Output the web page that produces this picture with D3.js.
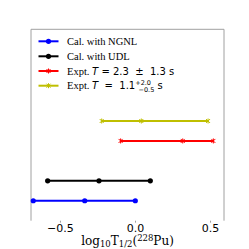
<!DOCTYPE html>
<html>
<head>
<meta charset="utf-8">
<script src="https://cdn.jsdelivr.net/npm/d3@7"></script>
<style>
  body { margin: 0; background: #fff; }
  svg text { font-family: "DejaVu Sans", sans-serif; white-space: pre; }
</style>
</head>
<body>
<div id="wrapper"></div>
<script>
// rows, in plot order (y position), with [low, central, high] on log10 scale
const seriesNames = ["Cal. with NGNL", "Cal. with UDL", "Expt. T = 2.3 ± 1.3 s", "Expt. T = 1.1 s"];
const seriesRow = [1, 2, 4, 5];
const seriesValues = [
  [-0.678, -0.335, 0.002],
  [-0.582, -0.24, 0.102],
  [-0.096, 0.318, 0.522],
  [-0.222, 0.042, 0.487],
];
const seriesColors = ["#0000ff", "#000000", "#ff0000", "#bfbf00"];
const seriesMarker = ["circle", "circle", "x", "x"];
const xTicks = [-0.5, 0.0, 0.5];

const dimensions = {
  width: 249,
  height: 249,
  margin: { top: 29.3, right: 25, bottom: 28.3, left: 31 },
};
dimensions.boundedWidth = dimensions.width - dimensions.margin.left - dimensions.margin.right;
dimensions.boundedHeight = dimensions.height - dimensions.margin.top - dimensions.margin.bottom;

const wrapper = d3.select("#wrapper")
  .append("svg")
  .attr("width", dimensions.width)
  .attr("height", dimensions.height);

const bounds = wrapper.append("g")
  .attr("transform", `translate(${dimensions.margin.left},${dimensions.margin.top})`);

const xScale = d3.scaleLinear()
  .domain([-0.693, 0.593])
  .range([0, dimensions.boundedWidth]);

const yScale = d3.scaleLinear()
  .domain([0, 9.6])
  .range([dimensions.boundedHeight, 0]);

// spines: left, top, right (no bottom)
const spineColor = "#a0a0a0";
bounds.append("path")
  .attr("d", `M0,${dimensions.boundedHeight}V0H${dimensions.boundedWidth}V${dimensions.boundedHeight}`)
  .attr("fill", "none")
  .attr("stroke", spineColor)
  .attr("stroke-width", 1);

const xAxis = bounds.append("g")
  .attr("transform", `translate(0,${dimensions.boundedHeight})`)
  .call(d3.axisBottom(xScale).tickValues(xTicks).tickSize(2).tickPadding(1.5)
    .tickFormat(d => d3.format(".1f")(d).replace("-", "\u2212")));
xAxis.select(".domain").remove();
xAxis.selectAll(".tick line").attr("stroke", spineColor);
xAxis.selectAll(".tick text")
  .attr("fill", "#000")
  .style("font-family", "DejaVu Sans")
  .style("font-size", "11px");

// x label
const xLabel = wrapper.append("text")
  .attr("x", dimensions.margin.left + dimensions.boundedWidth / 2)
  .attr("y", 244.5)
  .attr("text-anchor", "middle")
  .style("font-family", "DejaVu Serif")
  .style("font-size", "12px")
  .style("font-weight", "500")
  .attr("fill", "#000");
xLabel.append("tspan").text("log");
xLabel.append("tspan").attr("dy", 2.5).style("font-size", "8.5px").text("10");
xLabel.append("tspan").attr("dy", -2.5).text("T");
xLabel.append("tspan").attr("dy", 2.5).style("font-size", "8.5px").text("1/2");
xLabel.append("tspan").attr("dy", -2.5).text("(");
xLabel.append("tspan").attr("dy", -3.5).style("font-size", "8.5px").text("228");
xLabel.append("tspan").attr("dy", 3.5).text("Pu)");

// data rows
const rows = bounds.selectAll(".row")
  .data(seriesValues)
  .join("g")
  .attr("class", "row")
  .attr("transform", (d, i) => `translate(0,${yScale(seriesRow[i])})`);

rows.append("line")
  .attr("x1", d => xScale(d[0]))
  .attr("x2", d => xScale(d[2]))
  .attr("stroke", (d, i) => seriesColors[i])
  .attr("stroke-width", 2);

const drawMarker = (sel, kind, color) => {
  if (kind === "circle") {
    sel.append("circle").attr("r", 2.6).attr("fill", color);
  } else {
    sel.append("path")
      .attr("d", "M-2,-2L2,2M-2,2L2,-2M0,-2.5V2.5")
      .attr("stroke", color)
      .attr("stroke-width", 1)
      .attr("fill", "none");
  }
};

rows.each(function (d, i) {
  d3.select(this).selectAll(".pt")
    .data(d)
    .join("g")
    .attr("class", "pt")
    .attr("transform", v => `translate(${xScale(v)},0)`)
    .each(function () { drawMarker(d3.select(this), seriesMarker[i], seriesColors[i]); });
});

// legend
const legendY = [41.3, 56.3, 71, 85.7];
const legend = wrapper.append("g");
seriesNames.forEach((name, i) => {
  const g = legend.append("g").attr("transform", `translate(38.5,${legendY[i]})`);
  g.append("line").attr("x1", 0).attr("x2", 20)
    .attr("stroke", seriesColors[i]).attr("stroke-width", 2);
  const m = g.append("g").attr("transform", "translate(10,0)");
  drawMarker(m, seriesMarker[i], seriesColors[i]);
  const t = g.append("text")
    .attr("x", 28.5)
    .attr("y", 3.6)
    .style("font-family", "Liberation Serif")
    .style("font-size", "10.5px")
    .attr("fill", "#000");
  const sans = (s) => t.append("tspan").style("font-family", "DejaVu Sans").style("font-size", "10px").text(s);
  if (i < 2) {
    t.text(name);
  } else if (i === 2) {
    t.append("tspan").text("Expt. ");
    sans("T").style("font-style", "italic");
    sans(" = 2.3  \u00b1  1.3 s");
  } else {
    t.append("tspan").text("Expt. ");
    sans("T").style("font-style", "italic");
    sans("  =  1.1");
    t.append("tspan").attr("dy", -4).style("font-family", "DejaVu Sans").style("font-size", "6.5px").text("+2.0");
    t.append("tspan").attr("dx", -12.5).attr("dy", 7).style("font-family", "DejaVu Sans").style("font-size", "6.5px").text("\u22120.5");
    t.append("tspan").attr("dy", -3).style("font-family", "DejaVu Sans").style("font-size", "10px").text(" s");
  }
});
</script>
</body>
</html>
